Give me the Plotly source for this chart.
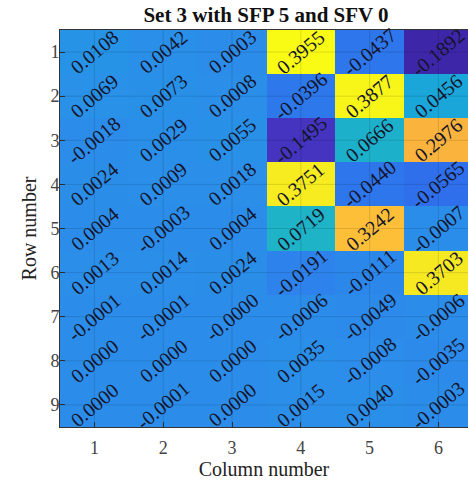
import plotly.graph_objects as go

rows = [1, 2, 3, 4, 5, 6, 7, 8, 9]
cols = [1, 2, 3, 4, 5, 6]

row1 = [0.0108, 0.0042, 0.0003, 0.3955, -0.0437, -0.1892]
row2 = [0.0069, 0.0073, 0.0008, -0.0396, 0.3877, 0.0456]
row3 = [-0.0018, 0.0029, 0.0055, -0.1495, 0.0666, 0.2976]
row4 = [0.0024, 0.0009, 0.0018, 0.3751, -0.0440, -0.0565]
row5 = [0.0004, -0.0003, 0.0004, 0.0719, 0.3242, -0.0007]
row6 = [0.0013, 0.0014, 0.0024, -0.0191, -0.0111, 0.3703]
row7 = [-0.0001, -0.0001, -0.00002, -0.0006, -0.0049, -0.0006]
row8 = [0.0000, 0.0000, 0.0000, 0.0035, -0.0008, -0.0035]
row9 = [0.0000, -0.0001, 0.0000, 0.0015, 0.0040, -0.0003]

z = [row1, row2, row3, row4, row5, row6, row7, row8, row9]

title_text = "Set 3 with SFP 5 and SFV 0"
x_title = "Column number"
y_title = "Row number"

parula = [
    [0.00, "rgb(62,38,168)"],
    [0.07, "rgb(68,52,192)"],
    [0.15, "rgb(62,82,226)"],
    [0.23, "rgb(46,112,236)"],
    [0.32, "rgb(44,140,234)"],
    [0.40, "rgb(26,166,218)"],
    [0.45, "rgb(30,180,198)"],
    [0.55, "rgb(72,190,152)"],
    [0.65, "rgb(150,192,96)"],
    [0.75, "rgb(228,186,62)"],
    [0.83, "rgb(250,178,60)"],
    [0.88, "rgb(253,192,56)"],
    [0.95, "rgb(246,230,36)"],
    [1.00, "rgb(249,251,21)"],
]

fig = go.Figure(go.Heatmap(
    x=cols, y=rows, z=z, colorscale=parula, showscale=False,
    hoverinfo="skip",
))

serif = "Liberation Serif, Times New Roman, serif"

annotations = []
for i, r in enumerate(rows):
    for j, c in enumerate(cols):
        annotations.append(dict(
            x=c, y=r, xref="x", yref="y", text=f"{z[i][j]:.4f}",
            showarrow=False, textangle=-40,
            font=dict(family=serif, size=20, color="#14142a"),
        ))

shapes = []
for r in rows:
    shapes.append(dict(type="line", xref="paper", yref="y", x0=0, x1=1, y0=r, y1=r,
                       line=dict(color="rgba(0,0,0,0.12)", width=1), layer="above"))
for c in cols:
    shapes.append(dict(type="line", xref="x", yref="paper", x0=c, x1=c, y0=0, y1=1,
                       line=dict(color="rgba(0,0,0,0.12)", width=1), layer="above"))

fig.update_layout(
    width=468, height=481,
    margin=dict(l=60, r=0, t=30, b=54, autoexpand=False),
    paper_bgcolor="white", plot_bgcolor="white",
    font=dict(family=serif, color="#333333"),
    title=dict(text=f"<b>{title_text}</b>", x=266 / 468, xanchor="center",
               y=1 - 15 / 481, yanchor="middle", yref="container",
               font=dict(family=serif, size=21, color="#111111")),
    annotations=annotations,
    shapes=shapes,
)
fig.update_xaxes(
    range=[0.5, 0.5 + (468 - 60) / 68.8], tickvals=cols, ticktext=[str(c) for c in cols],
    ticks="inside", ticklen=5, tickcolor="#333", showline=True, linecolor="#333",
    mirror=True, showgrid=False, zeroline=False, automargin=False,
    ticklabelstandoff=4,
    tickfont=dict(family=serif, size=18, color="#444"),
    title=dict(text=x_title, font=dict(family=serif, size=20, color="#222"), standoff=4),
)
fig.update_yaxes(
    range=[9.5, 0.5], tickvals=rows, ticktext=[str(r) for r in rows],
    ticks="inside", ticklen=5, tickcolor="#333", showline=True, linecolor="#333",
    mirror=True, showgrid=False, zeroline=False, automargin=False,
    ticklabelstandoff=-4,
    tickfont=dict(family=serif, size=18, color="#444"),
    title=dict(text=y_title, font=dict(family=serif, size=20, color="#222"), standoff=8),
)

fig.write_html(
    "out.html",
    config={"displayModeBar": False},
    post_script="document.body.style.margin='0';document.body.style.overflow='hidden';",
)
